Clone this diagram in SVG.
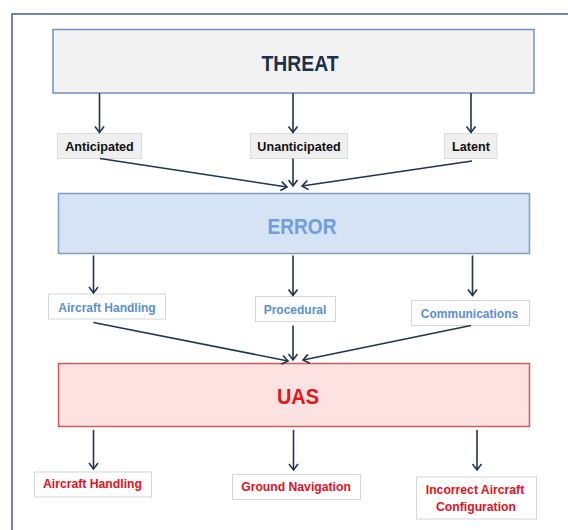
<svg xmlns="http://www.w3.org/2000/svg" width="568" height="530" viewBox="0 0 568 530">
<style>
text{font-family:"Liberation Sans",Arial,sans-serif;font-weight:bold;text-anchor:middle}
.big{font-size:22px}
.l1{font-size:12.6px;fill:#111}
.l2{font-size:12px;fill:#5b8fd6}
.l3{font-size:12.2px;fill:#e8101a}
.b1{fill:#efefef;stroke:#dcdcdc;stroke-width:1}
.b2{fill:#ffffff;stroke:#d6d6d6;stroke-width:1}
.con line{stroke:#1f3550;stroke-width:1.6;marker-end:url(#ah)}
</style>
<defs>
<marker id="ah" markerUnits="userSpaceOnUse" viewBox="-8 -6 10 12" markerWidth="10" markerHeight="12" refX="0" refY="0" orient="auto">
<path d="M-6,-4.5 L0,0 L-6,4.5" fill="none" stroke="#1f3550" stroke-width="1.6"/>
</marker>
</defs>
<rect width="568" height="530" fill="#ffffff"/>
<rect x="12" y="14" width="620" height="600" fill="none" stroke="#4a6894" stroke-width="1.6"/>

<g id="threat">
<rect x="53" y="29.5" width="481" height="63.5" fill="#f2f2f2" stroke="#7691bd" stroke-width="1.5"/>
<text class="big" x="300" y="71" fill="#1b2f4e" textLength="77" lengthAdjust="spacingAndGlyphs">THREAT</text>
</g>
<g id="anticipated">
<rect class="b1" x="57.5" y="133.5" width="84" height="25"/>
<text class="l1" x="99.5" y="150.5">Anticipated</text>
</g>
<g id="unanticipated">
<rect class="b1" x="250.5" y="133.5" width="97" height="25"/>
<text class="l1" x="299" y="150.5">Unanticipated</text>
</g>
<g id="latent">
<rect class="b1" x="444.5" y="133.5" width="52.5" height="25"/>
<text class="l1" x="471" y="150.5">Latent</text>
</g>

<g id="error">
<rect x="58.5" y="193.5" width="471" height="60" fill="#d5e3f4" stroke="#7f9cc5" stroke-width="1.5"/>
<text class="big" x="302" y="234" fill="#6f9ddd" textLength="69" lengthAdjust="spacingAndGlyphs">ERROR</text>
</g>
<g id="e-aircraft">
<rect class="b2" x="48.5" y="294" width="117" height="25"/>
<text class="l2" x="107" y="311.5">Aircraft Handling</text>
</g>
<g id="e-procedural">
<rect class="b2" x="255.5" y="296.5" width="80" height="25"/>
<text class="l2" x="295" y="313.5">Procedural</text>
</g>
<g id="e-communications">
<rect class="b2" x="411.5" y="300.5" width="118" height="25"/>
<text class="l2" x="469.5" y="317.5">Communications</text>
</g>

<g id="uas">
<rect x="58.5" y="363.5" width="471" height="63" fill="#fde2e2" stroke="#d65858" stroke-width="1.5"/>
<text class="big" x="298" y="404" fill="#e3141c" textLength="42" lengthAdjust="spacingAndGlyphs">UAS</text>
</g>
<g id="u-aircraft">
<rect class="b2" x="34.5" y="472" width="117" height="25"/>
<text class="l3" x="92.5" y="488">Aircraft Handling</text>
</g>
<g id="u-ground">
<rect class="b2" x="232.5" y="474.5" width="128" height="25"/>
<text class="l3" x="296" y="491">Ground Navigation</text>
</g>
<g id="u-incorrect">
<rect class="b2" x="416.5" y="477" width="120" height="42"/>
<text class="l3" x="475" y="493.5">Incorrect Aircraft</text>
<text class="l3" x="476" y="510.5">Configuration</text>
</g>

<g id="connectors" class="con">
<line x1="99.5" y1="93" x2="99.5" y2="132.5"/>
<line x1="293" y1="93" x2="293" y2="132.5"/>
<line x1="471" y1="93" x2="471" y2="132.5"/>
<line x1="100" y1="158.5" x2="287" y2="187"/>
<line x1="293" y1="158.5" x2="293" y2="186"/>
<line x1="472" y1="161" x2="302" y2="186"/>
<line x1="93.5" y1="255.5" x2="93.5" y2="293"/>
<line x1="293" y1="255.5" x2="293" y2="295.5"/>
<line x1="472.5" y1="255.5" x2="472.5" y2="295.5"/>
<line x1="93.5" y1="322.5" x2="288" y2="361"/>
<line x1="293" y1="325.5" x2="293" y2="360"/>
<line x1="471" y1="325.5" x2="303" y2="360"/>
<line x1="93.5" y1="430" x2="93.5" y2="469"/>
<line x1="293.5" y1="430" x2="293.5" y2="470"/>
<line x1="477" y1="430" x2="477" y2="470"/>
</g>
</svg>
